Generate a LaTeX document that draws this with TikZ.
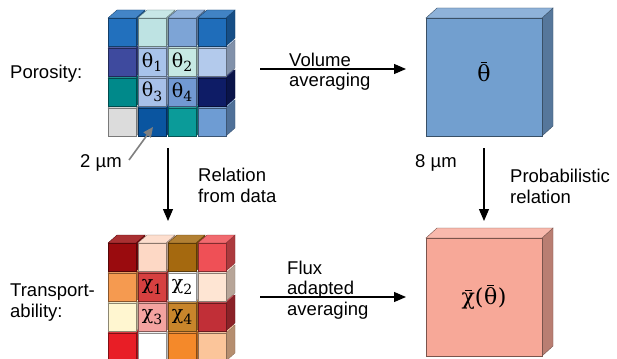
\documentclass[tikz,border=0pt]{standalone}
\usepackage{fontspec}
\setmainfont{Liberation Sans}
\newfontfamily\grk{DejaVu Serif}
\usetikzlibrary{arrows.meta}

% porosity cube colours (row by row, left to right)
\definecolor{pA}{HTML}{2270BD}\definecolor{pB}{HTML}{BEE3E3}\definecolor{pC}{HTML}{7DA4D6}\definecolor{pD}{HTML}{1F6DBA}
\definecolor{pE}{HTML}{3E4A9E}\definecolor{pF}{HTML}{A8C3EA}\definecolor{pG}{HTML}{C6E9E3}\definecolor{pH}{HTML}{B3CAEC}
\definecolor{pI}{HTML}{00898A}\definecolor{pJ}{HTML}{A7C0E8}\definecolor{pK}{HTML}{7199D2}\definecolor{pL}{HTML}{0E1C66}
\definecolor{pM}{HTML}{DCDCDC}\definecolor{pN}{HTML}{0A55A0}\definecolor{pO}{HTML}{0B9B99}\definecolor{pP}{HTML}{6E9CD3}
% transportability cube colours
\definecolor{tA}{HTML}{9A0B0E}\definecolor{tB}{HTML}{FDD8C5}\definecolor{tC}{HTML}{A5690F}\definecolor{tD}{HTML}{EF5056}
\definecolor{tE}{HTML}{F59A50}\definecolor{tF}{HTML}{D64040}\definecolor{tG}{HTML}{FFFFFF}\definecolor{tH}{HTML}{FEE5D3}
\definecolor{tI}{HTML}{FFF6D0}\definecolor{tJ}{HTML}{F4A3A0}\definecolor{tK}{HTML}{C8852B}\definecolor{tL}{HTML}{C12F37}
\definecolor{tM}{HTML}{E81E26}\definecolor{tN}{HTML}{FFFFFF}\definecolor{tO}{HTML}{F4892A}\definecolor{tP}{HTML}{FBC59A}
% averaged blocks
\definecolor{bigblue}{HTML}{729FCF}
\definecolor{bigred}{HTML}{F7A898}

% one small cube: #1 = left, #2 = top of front face, #3 = colour
\newcommand\blockcube[3]{%
  \filldraw[draw=#3!55!black, fill=#3!72!black, line width=0.3pt]
    (#1+28,#2) -- ++(9,-8) -- ++(0,28) -- ++(-9,8) -- cycle;
  \filldraw[draw=#3!55!black, fill=#3!85!white, line width=0.3pt]
    (#1,#2) -- ++(9,-8) -- ++(28,0) -- ++(-9,8) -- cycle;
  \filldraw[draw=#3!55!black, fill=#3, line width=0.3pt]
    (#1,#2) rectangle ++(28,28);
}
% one large block: #1 = left, #2 = top, #3 = colour
\newcommand\bigblock[3]{%
  \filldraw[draw=#3!50!black, fill=#3!75!black, line width=0.4pt]
    (#1+116,#2) -- ++(11,-10) -- ++(0,118) -- ++(-11,10) -- cycle;
  \filldraw[draw=#3!50!black, fill=#3!80!white, line width=0.4pt]
    (#1,#2) -- ++(11,-10) -- ++(116,0) -- ++(-11,10) -- cycle;
  \filldraw[draw=#3!50!black, fill=#3, line width=0.4pt]
    (#1,#2) rectangle ++(116,118);
}
\newcommand\sbs[1]{\raisebox{-4.5pt}{\fontsize{14}{14}\selectfont #1}}
% a glyph with a short rule above it
\newcommand\barred[1]{\begingroup\setbox0\hbox{#1}%
  \vbox{\offinterlineskip\hbox to\wd0{\hss\rule{0.5\wd0}{0.9pt}\hss}\kern1.8pt\box0}\endgroup}

\tikzset{
  lbl/.style={font=\fontsize{18.5}{20.5}\selectfont, align=left, inner sep=0pt},
  cubelbl/.style={font=\grk\fontsize{19}{19}\selectfont, inner sep=0pt},
  biglbl/.style={font=\grk\fontsize{22}{22}\selectfont, inner sep=0pt},
  flow/.style={line width=1.2pt, -{Triangle[length=12pt,width=10pt]}},
  pointer/.style={line width=1.6pt, draw=gray, -{Triangle[length=10pt,width=9pt]}}
}

\begin{document}
\begin{tikzpicture}[x=1pt,y=-1pt]
\useasboundingbox[fill=white] (0,0) rectangle (617,358);

% porosity grid, lower rows first so upper cubes overlap them
\foreach \c [count=\i from 0] in {pM,pN,pO,pP} {\blockcube{108+30*\i}{108}{\c}}
\foreach \c [count=\i from 0] in {pI,pJ,pK,pL} {\blockcube{108+30*\i}{78}{\c}}
\foreach \c [count=\i from 0] in {pE,pF,pG,pH} {\blockcube{108+30*\i}{48}{\c}}
\foreach \c [count=\i from 0] in {pA,pB,pC,pD} {\blockcube{108+30*\i}{18}{\c}}

% transportability grid
\foreach \c [count=\i from 0] in {tM,tN,tO,tP} {\blockcube{108+30*\i}{333}{\c}}
\foreach \c [count=\i from 0] in {tI,tJ,tK,tL} {\blockcube{108+30*\i}{303}{\c}}
\foreach \c [count=\i from 0] in {tE,tF,tG,tH} {\blockcube{108+30*\i}{273}{\c}}
\foreach \c [count=\i from 0] in {tA,tB,tC,tD} {\blockcube{108+30*\i}{243}{\c}}

% cell labels
\node[cubelbl] (th1) at (152,62) {θ\sbs{1}};
\node[cubelbl] (th2) at (182,62) {θ\sbs{2}};
\node[cubelbl] (th3) at (152,92) {θ\sbs{3}};
\node[cubelbl] (th4) at (182,92) {θ\sbs{4}};
\node[cubelbl] (ch1) at (152,287) {χ\sbs{1}};
\node[cubelbl] (ch2) at (182,287) {χ\sbs{2}};
\node[cubelbl] (ch3) at (152,317) {χ\sbs{3}};
\node[cubelbl] (ch4) at (182,317) {χ\sbs{4}};

% averaged blocks
\bigblock{426}{18}{bigblue}
\bigblock{426}{238}{bigred}
\node[biglbl] (thbar) at (484,72) {\barred{θ}};
\node[biglbl] (chbar) at (484,297) {\barred{χ}(\kern0.5pt\barred{θ}\kern0.5pt)};

% row labels
\node[lbl, anchor=base west] (por) at (10,79) {Porosity:};
\node[lbl, anchor=base west] (tra) at (10,317) {Transport-\\ability:};

% scale labels
\node[lbl, anchor=base west] (s2) at (80,167) {2 µm};
\node[lbl, anchor=base west] (s8) at (415,167) {8 µm};
\coordinate (p0) at (129,160);
\coordinate (p1) at (153,127);
\draw[pointer] (p0) -- (p1);

% operations
\coordinate (h1a) at (260,69);  \coordinate (h1b) at (406,69);
\coordinate (h2a) at (260,297); \coordinate (h2b) at (406,297);
\coordinate (v1a) at (168,148); \coordinate (v1b) at (168,221);
\coordinate (v2a) at (484,148); \coordinate (v2b) at (484,221);
\draw[flow] (h1a) -- (h1b);
\draw[flow] (h2a) -- (h2b);
\draw[flow] (v1a) -- (v1b);
\draw[flow] (v2a) -- (v2b);

% operation labels (anchored at the baseline of their last line)
\node[lbl, anchor=base west] (vol) at (289,87) {Volume\\averaging};
\node[lbl, anchor=base west] (flux) at (287,315) {Flux\\adapted\\averaging};
\node[lbl, anchor=base west] (rel) at (198,202) {Relation\\from data};
\node[lbl, anchor=base west] (prob) at (510,203) {Probabilistic\\relation};
\end{tikzpicture}
\end{document}
